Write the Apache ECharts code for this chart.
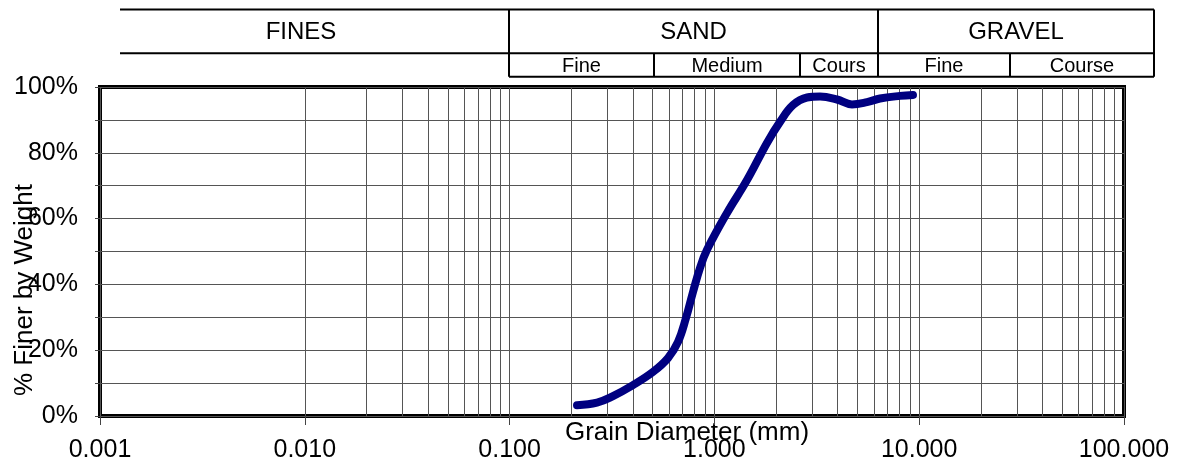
<!DOCTYPE html>
<html>
<head>
<meta charset="utf-8">
<script src="https://cdn.jsdelivr.net/npm/echarts@6/dist/echarts.min.js"></script>
<style>
html,body{margin:0;padding:0;background:#fff;}
#chart{width:1181px;height:464px;}
</style>
</head>
<body>
<div id="chart"></div>
<script>
// Grain size distribution
const sizeMm = [0.2134, 0.2672, 0.3162, 0.4004, 0.5014, 0.5933, 0.6643, 0.7267, 0.7862, 0.8505, 0.9203, 1.152, 1.443, 1.806, 2.091, 2.420, 2.833, 3.279, 3.968, 4.698, 5.561, 6.436, 8.058, 9.326];
const percentFiner = [3.3, 4.1, 5.9, 9.4, 13.4, 17.6, 22.5, 29.8, 37.7, 45.0, 50.5, 61.7, 71.7, 83.0, 89.4, 94.5, 96.8, 97.1, 96.2, 94.7, 95.4, 96.5, 97.3, 97.6];

// Axis tick values / labels
const xTickValues = [0.001, 0.01, 0.1, 1, 10, 100];
const xTickLabels = ['0.001', '0.010', '0.100', '1.000', '10.000', '100.000'];
const yTickValues = [0, 20, 40, 60, 80, 100];
const yTickLabels = ['0%', '20%', '40%', '60%', '80%', '100%'];

// Minor logarithmic grid values
const minorGrid = [
  0.002, 0.003, 0.004, 0.005, 0.006, 0.007, 0.008, 0.009,
  0.02, 0.03, 0.04, 0.05, 0.06, 0.07, 0.08, 0.09,
  0.2, 0.3, 0.4, 0.5, 0.6, 0.7, 0.8, 0.9,
  2, 3, 4, 5, 6, 7, 8, 9,
  20, 30, 40, 50, 60, 70, 80, 90
];

// Classification header
const headerMain = ['FINES', 'SAND', 'GRAVEL'];
const headerSub = ['Fine', 'Medium', 'Cours', 'Fine', 'Course'];

const FONT = '"Liberation Sans", Arial, Helvetica, sans-serif';

const chart = echarts.init(document.getElementById('chart'), null, {renderer: 'canvas'});

function hline(x1, x2, y) {
  return {type: 'line', shape: {x1: x1, y1: y, x2: x2, y2: y}, style: {stroke: '#000', lineWidth: 2}, silent: true};
}
function vline(x, y1, y2) {
  return {type: 'line', shape: {x1: x, y1: y1, x2: x, y2: y2}, style: {stroke: '#000', lineWidth: 2}, silent: true};
}
function txt(s, x, y, size) {
  return {type: 'text', x: x, y: y, style: {text: s, fill: '#000', font: size + 'px ' + FONT, align: 'center', verticalAlign: 'middle'}, silent: true};
}

const yTop = 9.5, yMid = 53.3, yBot = 76.7;
const graphics = [
  hline(120, 1154, yTop),
  hline(120, 1154, yMid),
  hline(509, 1154, yBot),
  vline(509, yTop, yBot),
  vline(878, yTop, yBot),
  vline(1154, yTop, yBot),
  vline(654, yMid, yBot),
  vline(800, yMid, yBot),
  vline(1010, yMid, yBot),
  txt(headerMain[0], 301, 32, 24),
  txt(headerMain[1], 693.5, 32, 24),
  txt(headerMain[2], 1016, 32, 24),
  txt(headerSub[0], 581.5, 66, 20),
  txt(headerSub[1], 727, 66, 20),
  txt(headerSub[2], 839, 66, 20),
  txt(headerSub[3], 944, 66, 20),
  txt(headerSub[4], 1082, 66, 20)
];

const option = {
  animation: false,
  backgroundColor: '#fff',
  textStyle: {fontFamily: FONT},
  grid: {
    left: 100, right: 57, top: 87, bottom: 48,
    containLabel: false,
    outerBoundsMode: 'none',
    show: true, borderColor: '#000', borderWidth: 4, backgroundColor: 'transparent'
  },
  xAxis: {
    type: 'log',
    logBase: 10,
    min: 0.001,
    max: 100,
    name: 'Grain Diameter (mm)',
    nameLocation: 'middle',
    nameGap: 4,
    nameMoveOverlap: false,
    nameTextStyle: {fontSize: 26, color: '#000', fontFamily: FONT, verticalAlign: 'top', padding: [0, 0, 0, 150]},
    axisLine: {show: false},
    axisTick: {show: true, length: 9, lineStyle: {color: '#444', width: 1}},
    axisLabel: {
      fontSize: 25, color: '#000', fontFamily: FONT, margin: 22,
      formatter: function (v) {
        for (let i = 0; i < xTickValues.length; i++) {
          if (Math.abs(Math.log10(v) - Math.log10(xTickValues[i])) < 1e-6) return xTickLabels[i];
        }
        return '';
      }
    },
    splitLine: {show: true, lineStyle: {color: '#555', width: 1}}
  },
  yAxis: {
    type: 'value',
    min: 0,
    max: 100,
    interval: 10,
    name: '% Finer by Weight',
    nameLocation: 'middle',
    nameGap: 62,
    nameRotate: 90,
    nameMoveOverlap: false,
    nameTextStyle: {fontSize: 26, color: '#000', fontFamily: FONT, padding: [0, 77, 0, 0]},
    axisLine: {show: false},
    axisTick: {show: true, length: 5, lineStyle: {color: '#444', width: 1}},
    axisLabel: {
      fontSize: 25, color: '#000', fontFamily: FONT, margin: 22,
      formatter: function (v) {
        const i = yTickValues.indexOf(Math.round(v));
        return i >= 0 ? yTickLabels[i] : '';
      }
    },
    splitLine: {show: true, lineStyle: {color: '#555', width: 1}}
  },
  series: [
    {
      type: 'line',
      z: 1,
      data: [],
      silent: true,
      markLine: {
        silent: true,
        animation: false,
        symbol: ['none', 'none'],
        label: {show: false},
        emphasis: {disabled: true},
        lineStyle: {color: '#555', width: 1, type: 'solid'},
        data: minorGrid.map(function (v) { return {xAxis: v}; })
      }
    },
    {
      type: 'line',
      z: 5,
      smooth: 0.4,
      symbol: 'none',
      data: sizeMm.map(function (x, i) { return [x, percentFiner[i]]; }),
      lineStyle: {color: '#000080', width: 8, cap: 'round', join: 'round'}
    }
  ],
  graphic: graphics
};

chart.setOption(option);
</script>
</body>
</html>
